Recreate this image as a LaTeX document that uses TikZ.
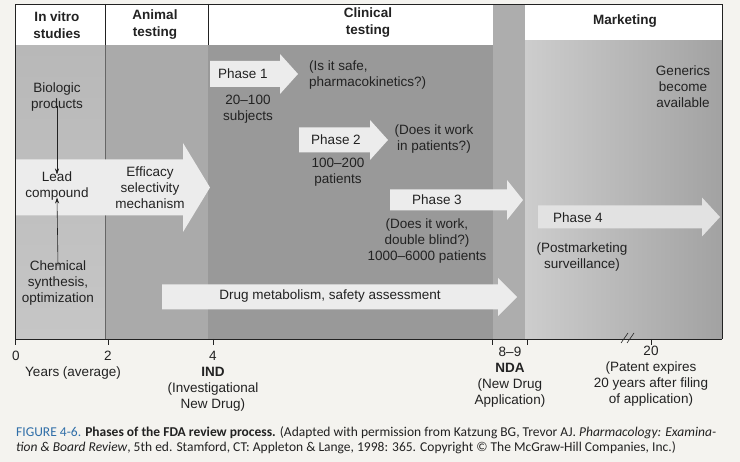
\documentclass[tikz,border=0pt]{standalone}
\usepackage{fontspec}
\setmainfont{Liberation Sans}
\newfontfamily\capfont{Carlito}
\usetikzlibrary{arrows.meta}
\definecolor{paper}{HTML}{F4F3EF}
\definecolor{invitro}{HTML}{B8B8B8}
\definecolor{invitrolow}{HTML}{C6C6C6}
\definecolor{animal}{HTML}{AAAAAA}
\definecolor{clinical}{HTML}{999999}
\definecolor{ndastrip}{HTML}{ADADAD}
\definecolor{mktl}{HTML}{CDCDCD}
\definecolor{mktr}{HTML}{A2A2A2}
\definecolor{arrowfill}{HTML}{ECECEC}
\definecolor{arrowfilltwo}{HTML}{E2E2E2}
\definecolor{ink}{HTML}{222222}
\definecolor{capblue}{HTML}{2F6EA8}
\tikzset{
  txt/.style={font=\fontsize{13.5}{16}\selectfont, text=ink, align=center, inner sep=0pt},
  hdr/.style={txt, font=\fontsize{13.5}{17}\selectfont\bfseries},
  thinarrow/.style={-{Stealth[length=6pt,width=4pt]}, ink, line width=0.6pt},
  axtick/.style={ink, line width=0.7pt},
  captxt/.style={font=\capfont\fontsize{13.5}{15}\selectfont, text=ink, anchor=base west, inner sep=0pt}
}
\newcommand\fatarrow[7]{% x1 x2 yc halfbody halfhead tip colour
  \fill[#7] ({#1},{#3-#4}) -- ({#2},{#3-#4}) -- ({#2},{#3-#5}) -- ({#6},{#3})
    -- ({#2},{#3+#5}) -- ({#2},{#3+#4}) -- ({#1},{#3+#4}) -- cycle;}
\begin{document}
\begin{tikzpicture}[x=1pt,y=-1pt]
\useasboundingbox (0,0) rectangle (740,462);
\fill[paper] (0,0) rectangle (740,462);
% column backgrounds
\shade[top color=invitro, bottom color=invitrolow] (15,45) rectangle (105,339);
\fill[animal] (105,45) rectangle (208,339);
\fill[clinical] (208,45) rectangle (493,339);
\fill[ndastrip] (493,4) rectangle (525,339);
\shade[left color=mktl, right color=mktr] (525,40) rectangle (722,339);
% headers
\fill[white] (15,4) rectangle (493,45);
\fill[white] (525,4) rectangle (722,40);
\draw[ink, line width=0.5pt] (105,4) -- (105,45) (208,4) -- (208,45);
\draw[gray!80!black, line width=0.3pt] (105,45) -- (105,339);
% lead compound band arrow
\fatarrow{15}{183}{187.5}{28}{44.5}{210}{arrowfill}
% phase arrows
\fatarrow{210}{280}{74}{13}{20}{298}{arrowfill}
\fatarrow{299}{370}{140}{12.5}{20}{388}{arrowfill}
\fatarrow{390}{507}{200}{10.5}{20}{523}{arrowfill}
\fatarrow{538}{702}{217}{11.5}{19.5}{720}{arrowfilltwo}
\fatarrow{162}{498}{297}{12.5}{19}{517}{arrowfill}
% frame
\draw[ink, line width=0.7pt] (15,339) -- (15,4) -- (722,4) -- (722,339);
% header texts
\node[hdr] (hiv) at (57,25) {In vitro\\studies};
\node[hdr] (han) at (155,25) {Animal\\testing};
\node[hdr] (hcl) at (368,23) {Clinical\\testing};
\node[hdr] (hmk) at (625,21) {Marketing};
% in vitro texts
\node[txt] (bio) at (57,97) {Biologic\\products};
\node[txt] (lead) at (57,186) {Lead\\compound};
\node[txt] (chem) at (58,283) {Chemical\\synthesis,\\optimization};
\node[txt] (eff) at (150,188) {Efficacy\\selectivity\\mechanism};
\draw[thinarrow] ([yshift=5pt]bio.south) -- ([yshift=-3pt]lead.north);
\draw[thinarrow] ([yshift=-5pt]chem.north) -- ([yshift=3pt]lead.south);
% clinical texts
\node[txt] (p1) at (243,74) {Phase 1};
\node[txt] (p1s) at (248,109) {20--100\\subjects};
\node[txt, align=left, anchor=west] (p1q) at (309,75) {(Is it safe,\\pharmacokinetics?)};
\node[txt] (p2) at (336,140) {Phase 2};
\node[txt] (p2s) at (338,172) {100--200\\patients};
\node[txt] (p2q) at (434,139) {(Does it work\\in patients?)};
\node[txt] (p3) at (437,200) {Phase 3};
\node[txt] (p3q) at (427,241) {(Does it work,\\double blind?)\\1000--6000 patients};
\node[txt] (drug) at (330,296) {Drug metabolism, safety assessment};
% marketing texts
\node[txt] (p4) at (578,218) {Phase 4};
\node[txt] (p4q) at (582,257) {(Postmarketing\\surveillance)};
\node[txt] (gen) at (683,87) {Generics\\become\\available};
% axis
\draw[axtick] (15,339) -- (722,339);
\foreach \x in {15,108,213,492,527,651} \draw[axtick] (\x,339) -- (\x,345);
\draw[ink, line width=0.6pt] (621,343) -- (628,333) (627,343) -- (634,333);
\node[txt] (t0) at (16,356) {0};
\node[txt] (t2) at (108,356) {2};
\node[txt] (yrs) at (73,373) {Years (average)};
\node[txt] (t4) at (213,356) {4};
\node[txt] (ind) at (213,389) {\textbf{IND}\\(Investigational\\New Drug)};
\node[txt] (nda) at (510,377) {8--9\\\textbf{NDA}\\(New Drug\\Application)};
\node[txt] (pat) at (651,376) {20\\(Patent expires\\20 years after filing\\of application)};
% caption
\node[captxt] (cap1) at (16,437) {{\color{capblue}FIGURE 4-6.} \textbf{Phases of the FDA review process.} (Adapted with permission from Katzung BG, Trevor AJ. \textit{Pharmacology: Examina-}};
\node[captxt] (cap2) at (16,452) {\textit{tion \& Board Review}, 5th ed. Stamford, CT: Appleton \& Lange, 1998: 365. Copyright © The McGraw-Hill Companies, Inc.)};
\end{tikzpicture}
\end{document}
